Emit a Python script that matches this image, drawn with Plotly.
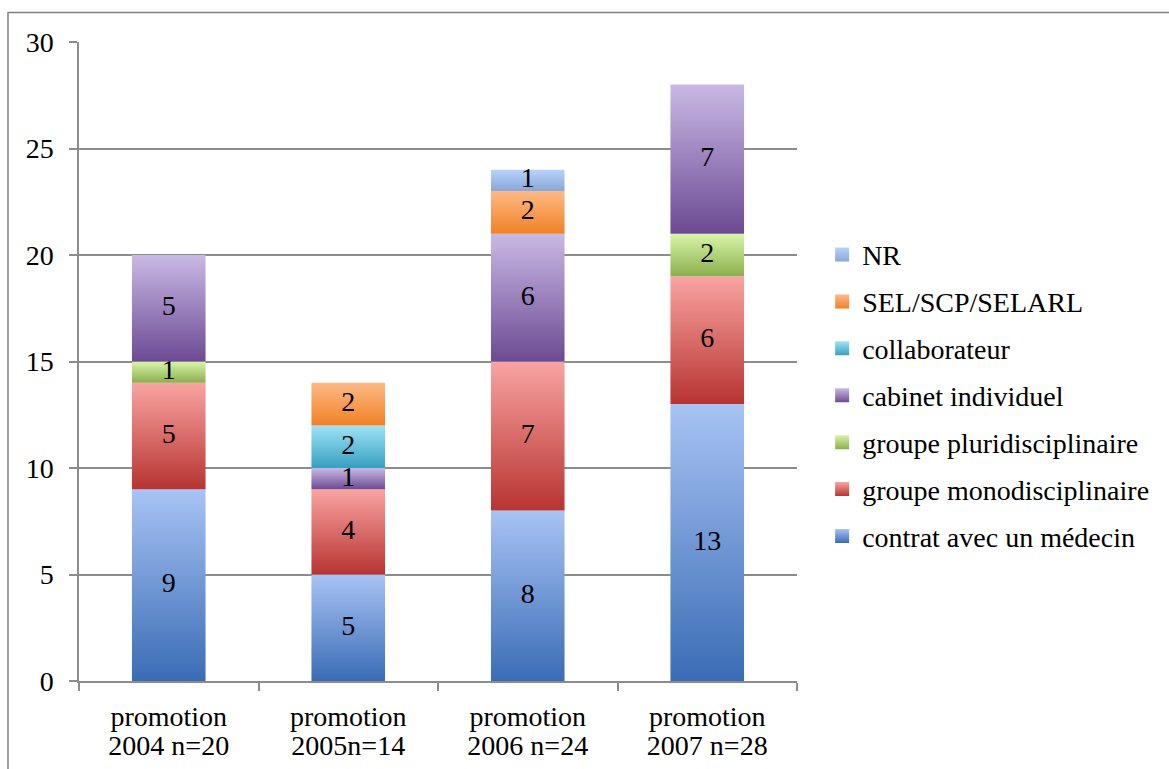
import plotly.graph_objects as go

# Cohorts (x axis) and their two-line labels
cohort_prefix = ["promotion", "promotion", "promotion", "promotion"]
cohort_labels = ["2004 n=20", "2005n=14", "2006 n=24", "2007 n=28"]

# Practice type counts per cohort, bottom of the stack first
contrat_medecin = [9, 5, 8, 13]
groupe_mono = [5, 4, 7, 6]
groupe_pluri = [1, 0, 0, 2]
cabinet_individuel = [5, 1, 6, 7]
collaborateur = [0, 2, 0, 0]
sel_scp_selarl = [0, 2, 2, 0]
non_renseigne = [0, 0, 1, 0]

series = [
    ("contrat avec un médecin", contrat_medecin, "#A8C3F4", "#3A6CB5"),
    ("groupe monodisciplinaire", groupe_mono, "#F9A4A2", "#B73431"),
    ("groupe pluridisciplinaire", groupe_pluri, "#D8F5A8", "#8CAF4E"),
    ("cabinet individuel", cabinet_individuel, "#C9B9E5", "#6C4A93"),
    ("collaborateur", collaborateur, "#9FE3F8", "#36A0BF"),
    ("SEL/SCP/SELARL", sel_scp_selarl, "#FDBA86", "#F08127"),
    ("NR", non_renseigne, "#B7D3FC", "#88A6D8"),
]

FONT = "Liberation Serif"
GRID = "#8c8c8c"
BAR_W = 0.41

fig = go.Figure()

xs = list(range(len(cohort_labels)))
base = [0] * len(xs)
label_x, label_y, label_t = [], [], []

for name, vals, top_c, bot_c in series:
    for i, v in enumerate(vals):
        if v == 0:
            continue
        y0, y1 = base[i], base[i] + v
        x0, x1 = xs[i] - BAR_W / 2, xs[i] + BAR_W / 2
        fig.add_trace(go.Scatter(
            x=[x0, x1, x1, x0, x0],
            y=[y0, y0, y1, y1, y0],
            mode="lines",
            fill="toself",
            line=dict(width=0, color="rgba(0,0,0,0)"),
            fillgradient=dict(type="vertical",
                              colorscale=[[0, bot_c], [1, top_c]],
                              start=y0, stop=y1),
            showlegend=False,
            hoverinfo="skip",
        ))
        label_x.append(xs[i])
        label_y.append(y0 + v / 2)
        label_t.append(str(v))
        base[i] = y1

# segment value labels
fig.add_trace(go.Scatter(
    x=label_x, y=label_y, text=label_t, mode="text",
    textposition="middle center",
    textfont=dict(family=FONT, size=28, color="black"),
    showlegend=False, hoverinfo="skip",
))

# legend entries, top of the stack listed first
for k, (name, vals, top_c, bot_c) in enumerate(reversed(series)):
    fig.add_trace(go.Scatter(
        x=[None], y=[None], mode="markers", name=name,
        legendgroup="g%d" % k,
        marker=dict(symbol="square", size=14, color=top_c,
                    gradient=dict(type="vertical", color=bot_c)),
    ))

fig.update_layout(
    width=1169, height=769,
    margin=dict(l=79, r=372, t=42, b=88),
    paper_bgcolor="white", plot_bgcolor="white",
    font=dict(family=FONT, size=28, color="black"),
    xaxis=dict(
        range=[-0.5, 3.5], tickvals=xs, ticktext=cohort_prefix,
        ticks="", showgrid=False, zeroline=False, automargin=False,
        showline=True, linecolor=GRID, linewidth=1.5,
        ticklabelstandoff=10,
        minor=dict(tickvals=[-0.5, 0.5, 1.5, 2.5, 3.5], ticks="outside",
                   ticklen=8, tickcolor=GRID, tickwidth=1.5, showgrid=False),
    ),
    xaxis2=dict(
        overlaying="x", matches="x", anchor="y", side="bottom",
        tickvals=xs, ticktext=cohort_labels, ticks="", automargin=False,
        showgrid=False, zeroline=False, showline=False,
        ticklabelstandoff=45,
    ),
    yaxis=dict(
        range=[0, 30], tickvals=[0, 5, 10, 15, 20, 25, 30],
        ticks="outside", ticklen=8, tickcolor=GRID, tickwidth=1.5,
        showline=True, linecolor=GRID, linewidth=1.5, automargin=False,
        showgrid=True, gridcolor=GRID, gridwidth=1.5, zeroline=False,
        ticklabelstandoff=10,
    ),
    legend=dict(
        x=1.035, xanchor="left", y=0.447, yanchor="middle",
        font=dict(family=FONT, size=28), tracegroupgap=7.5,
        bgcolor="rgba(0,0,0,0)",
    ),
    shapes=[dict(type="rect", xref="paper", yref="paper",
                 x0=-0.0989, x1=1.6, y0=-0.2, y1=1.046,
                 line=dict(color="#808080", width=1.5), layer="below")],
)

# dummy trace so the second x axis is drawn
fig.add_trace(go.Scatter(x=[None], y=[None], xaxis="x2", showlegend=False,
                         hoverinfo="skip"))

fig.write_html("out.html")
